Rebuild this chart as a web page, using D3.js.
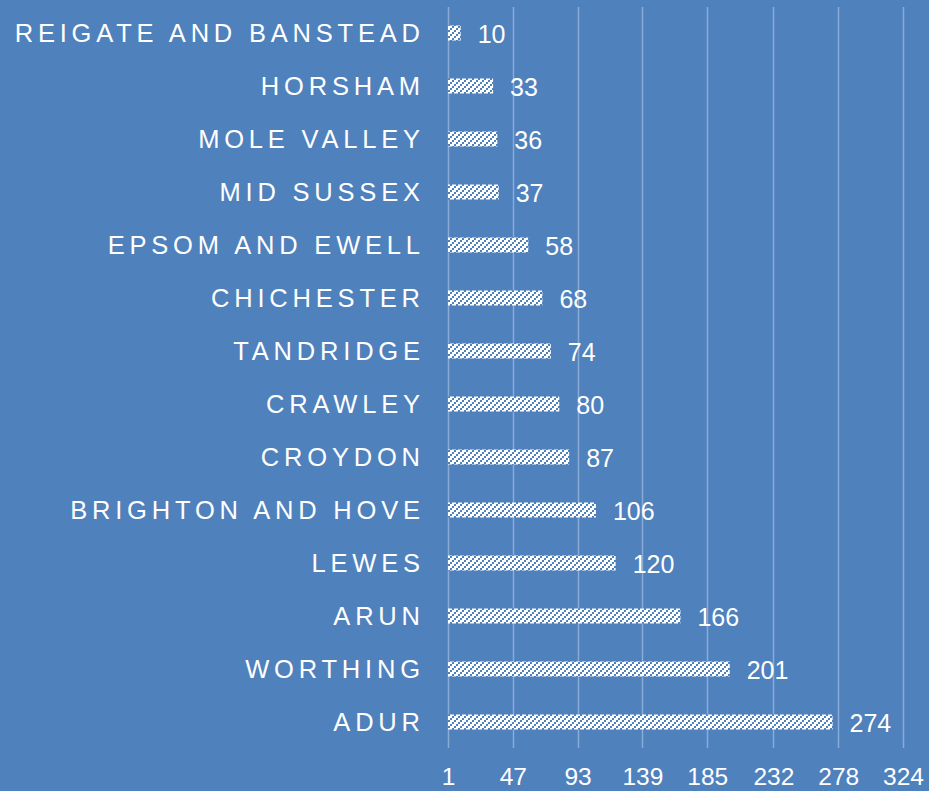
<!DOCTYPE html>
<html>
<head>
<meta charset="utf-8">
<script src="https://cdn.jsdelivr.net/npm/d3@7"></script>
<style>
  html, body { margin: 0; padding: 0; background: #4f81bd; }
  svg { display: block; }
</style>
</head>
<body>
<svg id="chart" width="929" height="791"></svg>
<script>
// data, top to bottom
const districts = ["REIGATE AND BANSTEAD", "HORSHAM", "MOLE VALLEY", "MID SUSSEX",
  "EPSOM AND EWELL", "CHICHESTER", "TANDRIDGE", "CRAWLEY", "CROYDON",
  "BRIGHTON AND HOVE", "LEWES", "ARUN", "WORTHING", "ADUR"];
const counts = [10, 33, 36, 37, 58, 68, 74, 80, 87, 106, 120, 166, 201, 274];
const tickValues = [1, 47, 93, 139, 185, 232, 278, 324];

const data = districts.map((d, i) => ({ name: d, value: counts[i] }));

const svg = d3.select("#chart");
const bg = "#4f81bd";

svg.append("rect").attr("width", 929).attr("height", 791).attr("fill", bg);

// hatch pattern (white with blue diagonal)
const defs = svg.append("defs");
const pat = defs.append("pattern")
    .attr("id", "hatch")
    .attr("patternUnits", "userSpaceOnUse")
    .attr("width", 6).attr("height", 6);
pat.append("rect").attr("width", 6).attr("height", 6).attr("fill", "#ffffff");
[[4, 0], [2, 2], [0, 4]].forEach(([px, py]) => {
    pat.append("rect").attr("x", px).attr("y", py)
        .attr("width", 2).attr("height", 2).attr("fill", bg);
});

const x = d3.scaleLinear()
    .domain([1, 324])
    .range([448, 903]);

const y = d3.scaleBand()
    .domain(districts)
    .range([6.5, 748.5])
    .paddingInner(0.717)
    .paddingOuter(0.3585);

// gridlines
svg.append("g")
    .selectAll("line")
    .data(tickValues)
    .join("line")
    .attr("x1", d => Math.round(x(d)) + 0.5)
    .attr("x2", d => Math.round(x(d)) + 0.5)
    .attr("y1", 7)
    .attr("y2", 748)
    .attr("stroke", "#8aabd6")
    .attr("stroke-width", 1.5);

// bottom axis labels
const xAxis = d3.axisBottom(x).tickValues(tickValues).tickSize(0).tickFormat(d3.format("d"));
const gx = svg.append("g")
    .attr("transform", "translate(0,785)")
    .call(xAxis);
gx.select(".domain").remove();
gx.selectAll("text")
    .attr("fill", "#ffffff")
    .attr("font-family", "Liberation Sans, Arial, sans-serif")
    .attr("font-size", 24.5)
    .attr("y", 0)
    .attr("dy", 0);

// bars
svg.append("g")
    .selectAll("rect")
    .data(data)
    .join("rect")
    .attr("x", x(1))
    .attr("y", d => y(d.name))
    .attr("width", d => x(d.value) - x(1))
    .attr("height", y.bandwidth())
    .attr("fill", "url(#hatch)");

// value labels
svg.append("g")
    .selectAll("text")
    .data(data)
    .join("text")
    .attr("x", d => x(d.value) + 17)
    .attr("y", d => y(d.name) + y.bandwidth() / 2)
    .attr("dy", "0.41em")
    .attr("fill", "#ffffff")
    .attr("font-family", "Liberation Sans, Arial, sans-serif")
    .attr("font-size", 25)
    .text(d => d.value);

// category labels
const ls = 4.8;
svg.append("g")
    .selectAll("text")
    .data(data)
    .join("text")
    .attr("x", 420 + ls)
    .attr("y", d => y(d.name) + y.bandwidth() / 2)
    .attr("dy", "0.36em")
    .attr("text-anchor", "end")
    .attr("fill", "#ffffff")
    .attr("font-family", "Liberation Sans, Arial, sans-serif")
    .attr("font-size", 25.5)
    .attr("letter-spacing", ls)
    .text(d => d.name);
</script>
</body>
</html>
